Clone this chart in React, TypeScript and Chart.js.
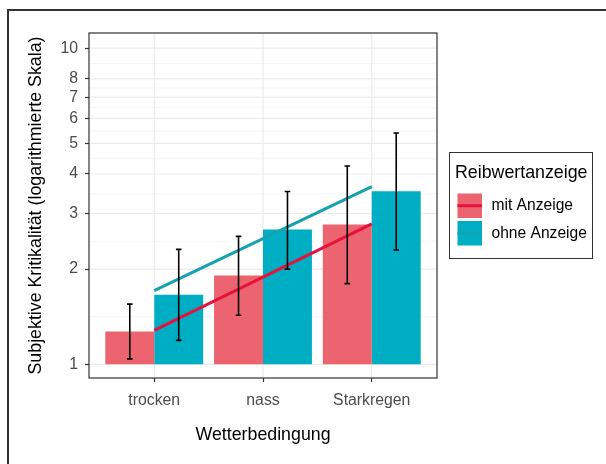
import { useEffect, useRef } from 'react';
import { Chart, registerables } from 'chart.js';

Chart.register(...registerables);

// Weather conditions along the x axis (positions 1..3)
const categories = ['trocken', 'nass', 'Starkregen'];
const seriesNames = ['mit Anzeige', 'ohne Anzeige'];

// Mean subjective criticality per condition
const mitValues = [1.27, 1.91, 2.77];
const ohneValues = [1.66, 2.67, 3.53];

// Error bar limits
const mitLower = [1.04, 1.43, 1.8];
const mitUpper = [1.55, 2.54, 4.24];
const ohneLower = [1.19, 2.0, 2.3];
const ohneUpper = [2.31, 3.52, 5.39];

// Fitted trend (log scale) evaluated at trocken and Starkregen
const trendPositions = [1, 3];
const mitTrend = [1.28, 2.78];
const ohneTrend = [1.71, 3.65];

// Labelled y-axis breaks
const yTickValues = [1, 2, 3, 4, 5, 6, 7, 8, 10];

const FONT = '"Liberation Sans", Arial, sans-serif';
const BAR_RED = '#EC646F';
const BAR_TEAL = '#00AEC4';
const LINE_RED = '#E5123D';
const LINE_TEAL = '#14A2B0';

const decorPlugin = {
  id: 'decor',
  beforeDatasetsDraw(chart: any) {
    const { ctx, chartArea: a, scales } = chart;
    const y = scales.y;
    const x = scales.x;
    ctx.save();
    const hLine = (py: number, w: number, c: string) => {
      ctx.strokeStyle = c;
      ctx.lineWidth = w;
      ctx.beginPath();
      ctx.moveTo(a.left, py);
      ctx.lineTo(a.right, py);
      ctx.stroke();
    };
    // minor grid lines halfway (in log space) between breaks
    for (let i = 0; i < yTickValues.length - 1; i++) {
      const v = Math.sqrt(yTickValues[i] * yTickValues[i + 1]);
      hLine(y.getPixelForValue(v), 0.7, '#F0F0F0');
    }
    yTickValues.forEach((v) => hLine(y.getPixelForValue(v), 1.2, '#EBEBEB'));
    categories.forEach((_, i) => {
      const px = x.getPixelForValue(i + 1);
      ctx.strokeStyle = '#EBEBEB';
      ctx.lineWidth = 1.2;
      ctx.beginPath();
      ctx.moveTo(px, a.top);
      ctx.lineTo(px, a.bottom);
      ctx.stroke();
    });
    ctx.restore();
  },
  afterDatasetsDraw(chart: any) {
    const { ctx, chartArea: a, scales } = chart;
    const y = scales.y;
    ctx.save();

    // error bars centred on each bar
    const limits = [
      [mitLower, mitUpper],
      [ohneLower, ohneUpper],
    ];
    limits.forEach(([lo, hi], di) => {
      const meta = chart.getDatasetMeta(di);
      meta.data.forEach((bar: any, j: number) => {
        const px = bar.x;
        const top = y.getPixelForValue(hi[j]);
        const bot = y.getPixelForValue(lo[j]);
        ctx.strokeStyle = '#000';
        ctx.lineWidth = 1.6;
        ctx.beginPath();
        ctx.moveTo(px, top);
        ctx.lineTo(px, bot);
        ctx.moveTo(px - 2.8, top);
        ctx.lineTo(px + 2.8, top);
        ctx.moveTo(px - 2.8, bot);
        ctx.lineTo(px + 2.8, bot);
        ctx.stroke();
      });
    });

    // panel border
    ctx.strokeStyle = '#333';
    ctx.lineWidth = 1.2;
    ctx.strokeRect(a.left, a.top, a.right - a.left, a.bottom - a.top);

    // axis titles
    ctx.fillStyle = '#000';
    ctx.font = `17.8px ${FONT}`;
    ctx.textAlign = 'center';
    ctx.textBaseline = 'middle';
    ctx.fillText('Wetterbedingung', (a.left + a.right) / 2, 435);
    ctx.save();
    ctx.translate(36, (a.top + a.bottom) / 2);
    ctx.rotate(-Math.PI / 2);
    ctx.fillText('Subjektive Kritikalität (logarithmierte Skala)', 0, 0);
    ctx.restore();

    // legend
    ctx.strokeStyle = '#333';
    ctx.lineWidth = 1;
    ctx.strokeRect(449.5, 152.5, 143, 106);
    ctx.textAlign = 'left';
    ctx.font = `17.8px ${FONT}`;
    ctx.fillText('Reibwertanzeige', 455, 173);
    const keys = [
      { fill: BAR_RED, line: LINE_RED, top: 193.5 },
      { fill: BAR_TEAL, line: LINE_TEAL, top: 221 },
    ];
    ctx.font = `15.6px ${FONT}`;
    keys.forEach((k, i) => {
      ctx.fillStyle = k.fill;
      ctx.fillRect(457.5, k.top, 24.5, 24.5);
      ctx.strokeStyle = k.line;
      ctx.lineWidth = 3;
      ctx.beginPath();
      ctx.moveTo(457.5, k.top + 12.2);
      ctx.lineTo(482, k.top + 12.2);
      ctx.stroke();
      ctx.fillStyle = '#000';
      ctx.fillText(seriesNames[i], 491.5, k.top + 12.5);
    });

    // outer frame
    ctx.strokeStyle = '#333';
    ctx.lineWidth = 2;
    ctx.beginPath();
    ctx.moveTo(8, 470);
    ctx.lineTo(8, 10);
    ctx.lineTo(610, 10);
    ctx.stroke();

    ctx.restore();
  },
};

export default function App() {
  const canvasRef = useRef<HTMLCanvasElement>(null);

  useEffect(() => {
    const canvas = canvasRef.current;
    if (!canvas) return;

    const barData = (vals: number[]) => vals.map((v, i) => ({ x: i + 1, y: [1, v] }));
    const trendData = (vals: number[]) => vals.map((v, i) => ({ x: trendPositions[i], y: v }));

    const chart = new Chart(canvas, {
      type: 'bar',
      data: {
        datasets: [
          {
            label: seriesNames[0],
            data: barData(mitValues) as any,
            backgroundColor: BAR_RED,
            borderWidth: 0,
            categoryPercentage: 0.9,
            barPercentage: 1,
            order: 2,
          },
          {
            label: seriesNames[1],
            data: barData(ohneValues) as any,
            backgroundColor: BAR_TEAL,
            borderWidth: 0,
            categoryPercentage: 0.9,
            barPercentage: 1,
            order: 2,
          },
          {
            type: 'line',
            label: seriesNames[0] + ' Trend',
            data: trendData(mitTrend) as any,
            borderColor: LINE_RED,
            borderWidth: 3,
            pointRadius: 0,
            fill: false,
            order: 1,
          } as any,
          {
            type: 'line',
            label: seriesNames[1] + ' Trend',
            data: trendData(ohneTrend) as any,
            borderColor: LINE_TEAL,
            borderWidth: 3,
            pointRadius: 0,
            fill: false,
            order: 1,
          } as any,
        ],
      },
      options: {
        responsive: false,
        animation: false,
        layout: { padding: { left: 0, top: 33, right: 169, bottom: 0 } },
        plugins: {
          legend: { display: false },
          tooltip: { enabled: false },
        },
        scales: {
          x: {
            type: 'linear',
            min: 0.4,
            max: 3.6,
            offset: false,
            afterBuildTicks: (scale: any) => {
              scale.ticks = categories.map((_, i) => ({ value: i + 1 }));
            },
            afterFit: (scale: any) => {
              scale.height = 86;
            },
            grid: {
              display: true,
              offset: false,
              drawOnChartArea: false,
              drawTicks: true,
              tickLength: 4,
              tickColor: '#333',
              tickWidth: 1.2,
              color: 'transparent',
            },
            border: { display: false },
            ticks: {
              autoSkip: false,
              maxRotation: 0,
              padding: 9,
              color: '#4D4D4D',
              font: { family: FONT, size: 15.8 },
              callback: (v: any) => categories[Number(v) - 1] ?? '',
            },
          },
          y: {
            type: 'logarithmic',
            min: 0.905,
            max: 11.17,
            afterBuildTicks: (scale: any) => {
              scale.ticks = yTickValues.map((v) => ({ value: v }));
            },
            afterFit: (scale: any) => {
              scale.width = 89;
            },
            grid: {
              display: true,
              drawOnChartArea: false,
              drawTicks: true,
              tickLength: 4,
              tickColor: '#333',
              tickWidth: 1.2,
              color: 'transparent',
            },
            border: { display: false },
            ticks: {
              autoSkip: false,
              padding: 7,
              color: '#4D4D4D',
              font: { family: FONT, size: 15.8 },
              callback: (v: any) => String(v),
            },
          },
        },
      } as any,
      plugins: [decorPlugin],
    });

    return () => chart.destroy();
  }, []);

  return (
    <div style={{ position: 'fixed', left: 0, top: 0, width: 606, height: 464, background: '#fff' }}>
      <canvas ref={canvasRef} width={606} height={464} style={{ display: 'block' }} />
    </div>
  );
}
